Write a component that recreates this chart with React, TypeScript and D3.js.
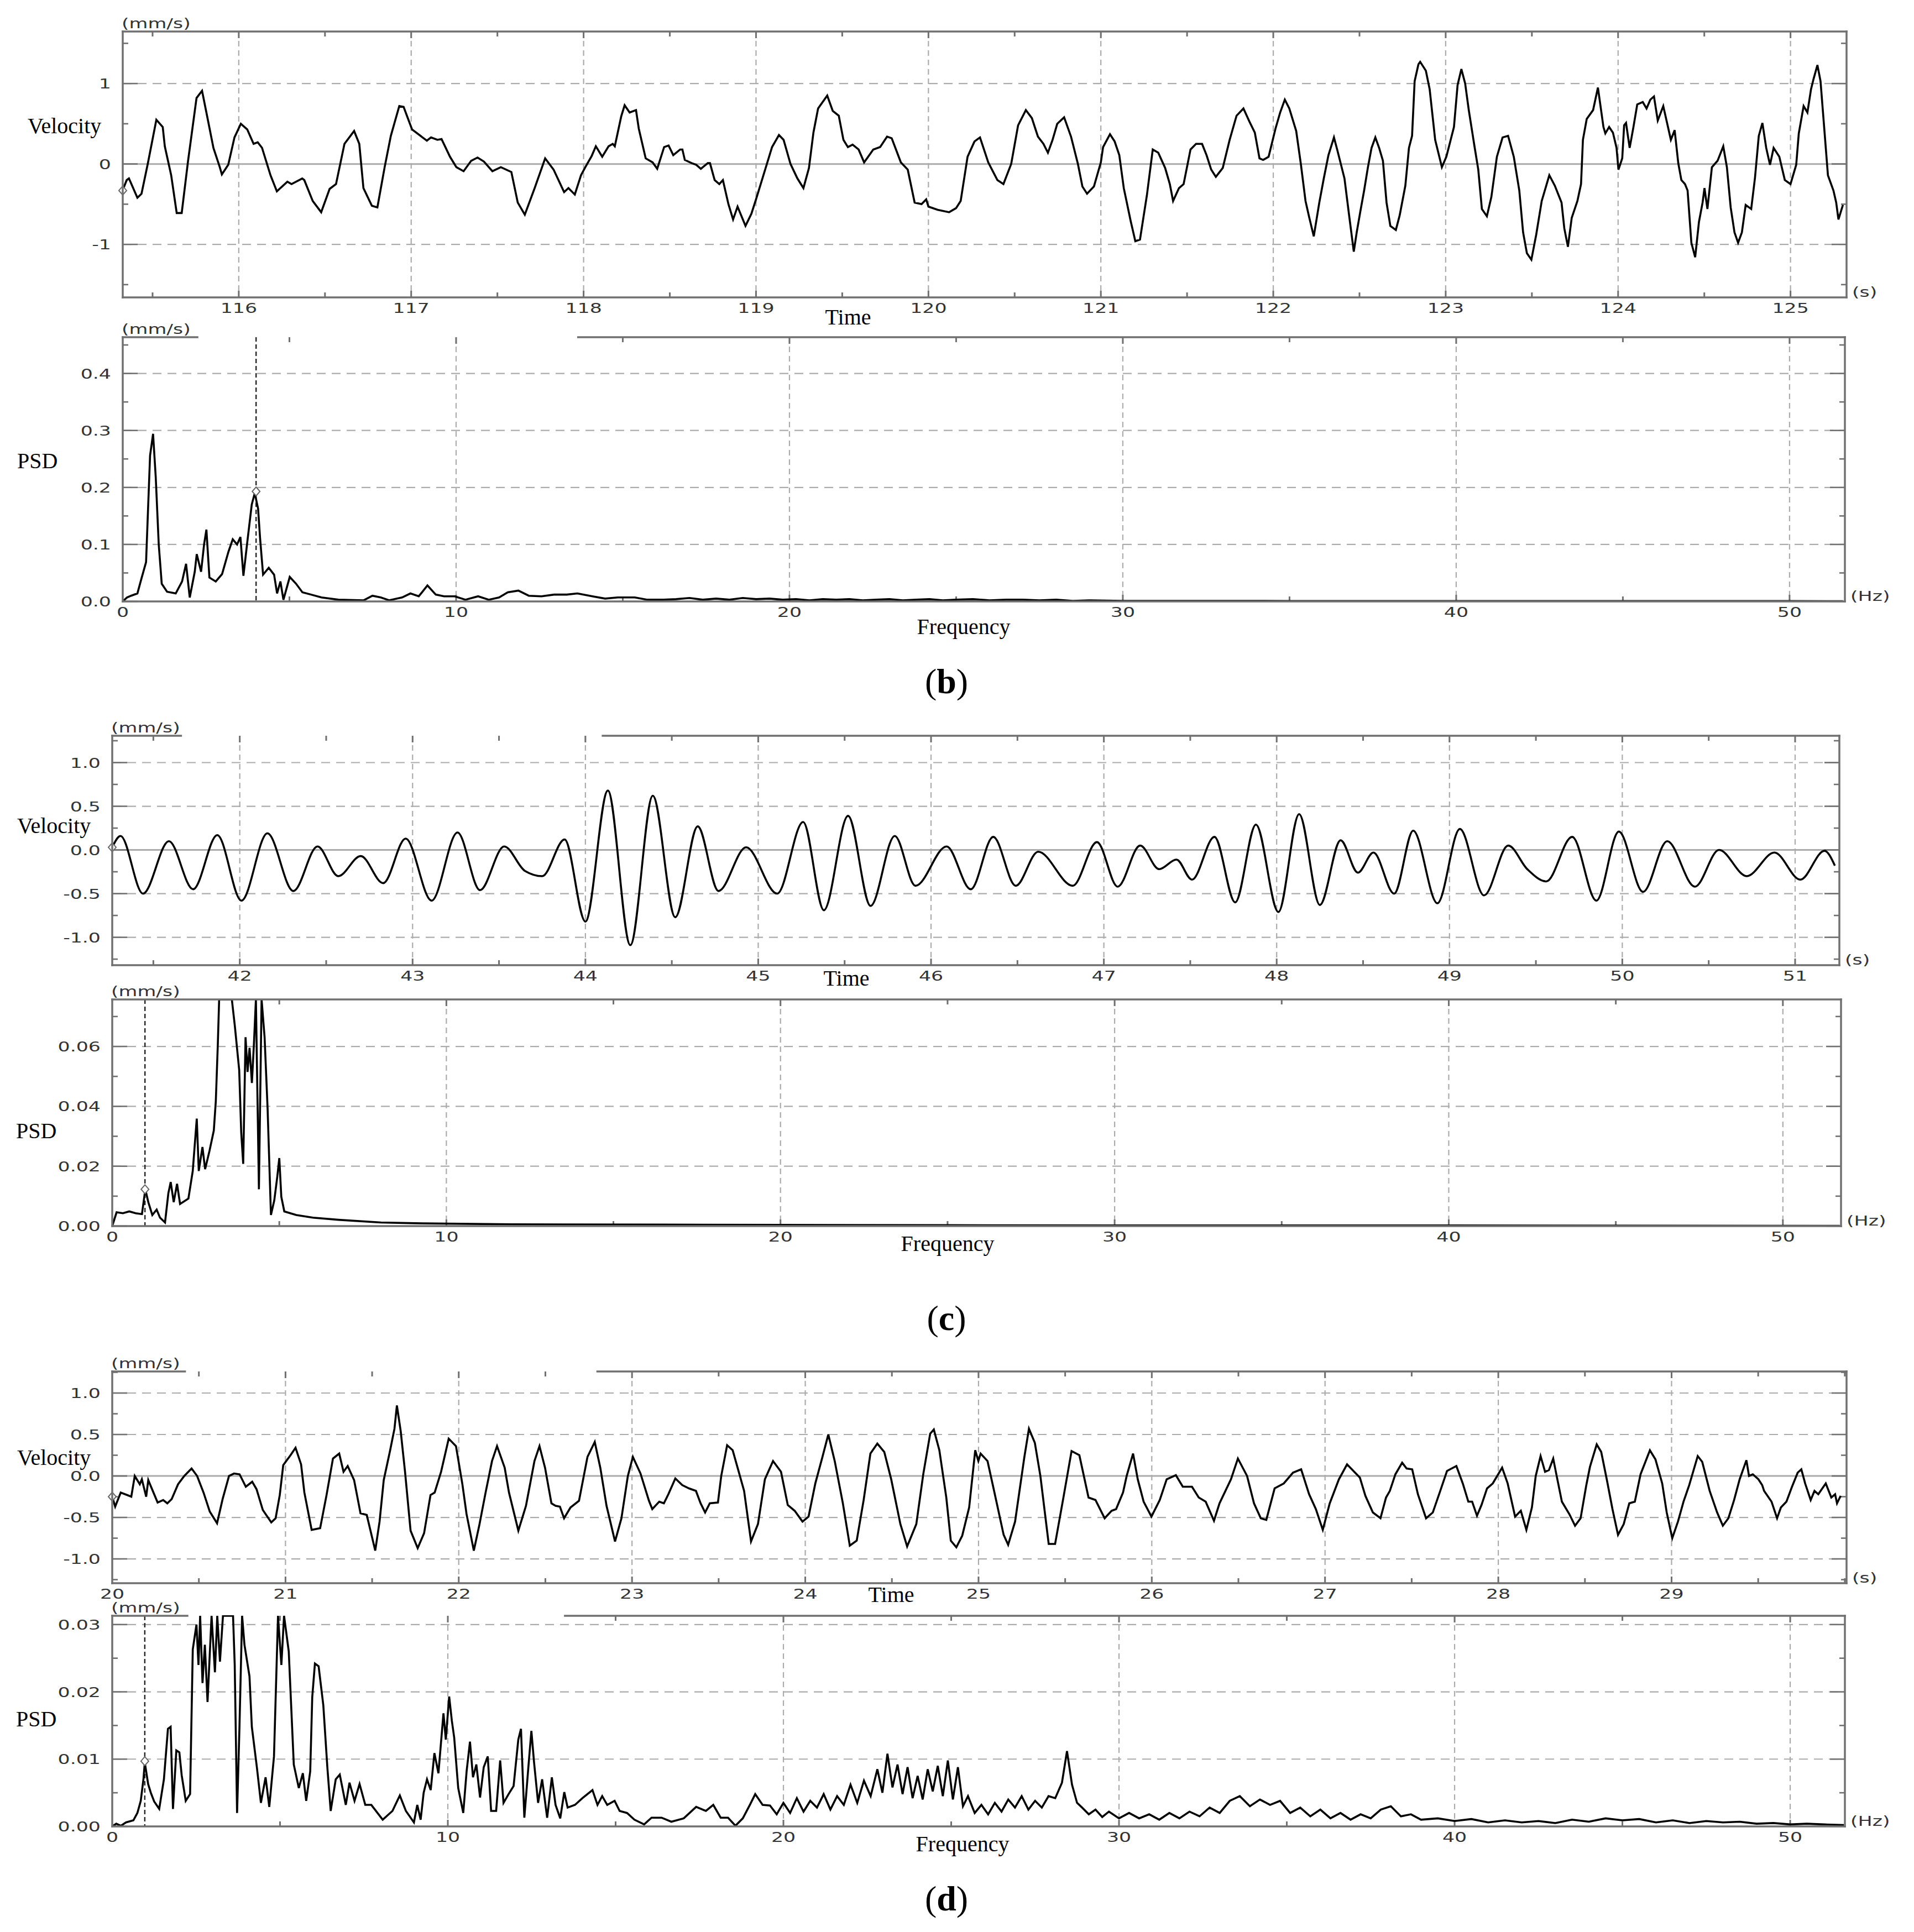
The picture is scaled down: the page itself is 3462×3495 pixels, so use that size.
import React, { useEffect, useRef } from "react";
import * as d3 from "d3";

const WIDTH = 3462;
const HEIGHT = 3495;

type Pt = [number, number];

// ── (b) velocity trace: [time s, velocity mm/s] ──────────────────────────
const velBTicks = [116, 117, 118, 119, 120, 121, 122, 123, 124, 125];
const velBYTicks = [-1, 0, 1];
const velB: Pt[] = [
  [115.326,-0.33],[115.35,-0.2],[115.363,-0.18],[115.412,-0.42],[115.436,-0.37],[115.473,0.01],[115.522,0.55],[115.559,0.46],[115.571,0.22],[115.608,-0.14],[115.64,-0.61],[115.669,-0.61],[115.706,0.04],[115.755,0.82],[115.787,0.91],[115.816,0.6],[115.853,0.2],[115.89,-0.04],[115.902,-0.13],[115.939,-0.01],[115.975,0.33],[116.012,0.5],[116.049,0.43],[116.086,0.25],[116.11,0.27],[116.135,0.2],[116.184,-0.14],[116.221,-0.34],[116.282,-0.22],[116.306,-0.25],[116.368,-0.18],[116.38,-0.2],[116.429,-0.46],[116.478,-0.6],[116.527,-0.31],[116.564,-0.25],[116.613,0.25],[116.669,0.41],[116.699,0.25],[116.723,-0.3],[116.772,-0.52],[116.804,-0.54],[116.846,-0.04],[116.882,0.35],[116.931,0.72],[116.956,0.71],[117.005,0.43],[117.066,0.33],[117.091,0.29],[117.115,0.33],[117.152,0.3],[117.176,0.31],[117.225,0.09],[117.262,-0.04],[117.304,-0.09],[117.348,0.04],[117.385,0.08],[117.422,0.03],[117.471,-0.09],[117.52,-0.04],[117.581,-0.1],[117.618,-0.48],[117.659,-0.63],[117.716,-0.3],[117.777,0.07],[117.826,-0.07],[117.887,-0.35],[117.912,-0.3],[117.949,-0.38],[117.985,-0.14],[118.01,-0.04],[118.047,0.1],[118.071,0.22],[118.108,0.09],[118.145,0.22],[118.169,0.25],[118.181,0.22],[118.218,0.59],[118.238,0.73],[118.267,0.64],[118.304,0.67],[118.32,0.44],[118.36,0.07],[118.4,0.02],[118.427,-0.06],[118.467,0.21],[118.493,0.23],[118.52,0.11],[118.56,0.18],[118.573,0.18],[118.587,0.05],[118.627,0.01],[118.653,-0.01],[118.68,-0.06],[118.72,0.01],[118.733,0.01],[118.76,-0.2],[118.787,-0.25],[118.808,-0.2],[118.84,-0.5],[118.867,-0.69],[118.893,-0.53],[118.939,-0.77],[118.973,-0.62],[119,-0.44],[119.053,-0.07],[119.093,0.21],[119.133,0.36],[119.16,0.3],[119.2,0],[119.24,-0.18],[119.275,-0.3],[119.307,-0.05],[119.333,0.39],[119.36,0.69],[119.413,0.85],[119.445,0.66],[119.48,0.6],[119.507,0.3],[119.533,0.21],[119.56,0.24],[119.595,0.18],[119.627,0.02],[119.68,0.18],[119.72,0.21],[119.76,0.34],[119.787,0.32],[119.84,0.02],[119.88,-0.07],[119.92,-0.48],[119.96,-0.5],[119.987,-0.44],[120,-0.53],[120.053,-0.57],[120.12,-0.6],[120.16,-0.55],[120.187,-0.46],[120.227,0.09],[120.267,0.28],[120.299,0.33],[120.347,0.02],[120.4,-0.2],[120.435,-0.25],[120.48,0],[120.52,0.48],[120.565,0.67],[120.6,0.57],[120.635,0.34],[120.667,0.25],[120.693,0.14],[120.72,0.3],[120.747,0.5],[120.787,0.58],[120.827,0.34],[120.867,0],[120.893,-0.28],[120.92,-0.37],[120.96,-0.28],[121,0.02],[121.013,0.21],[121.053,0.37],[121.08,0.28],[121.107,0.11],[121.133,-0.3],[121.173,-0.71],[121.2,-0.96],[121.227,-0.94],[121.267,-0.39],[121.301,0.18],[121.333,0.14],[121.373,-0.05],[121.4,-0.25],[121.419,-0.46],[121.453,-0.3],[121.48,-0.25],[121.52,0.18],[121.552,0.25],[121.587,0.25],[121.613,0.11],[121.64,-0.07],[121.667,-0.16],[121.707,-0.05],[121.747,0.3],[121.787,0.6],[121.827,0.69],[121.861,0.53],[121.893,0.39],[121.92,0.07],[121.941,0.05],[121.973,0.09],[122.013,0.44],[122.04,0.64],[122.067,0.8],[122.093,0.69],[122.133,0.41],[122.16,0],[122.187,-0.46],[122.208,-0.66],[122.235,-0.9],[122.267,-0.48],[122.293,-0.18],[122.32,0.11],[122.352,0.33],[122.373,0.16],[122.413,-0.18],[122.44,-0.64],[122.467,-1.09],[122.484,-0.85],[122.505,-0.59],[122.527,-0.33],[122.549,-0.04],[122.57,0.2],[122.592,0.33],[122.614,0.2],[122.636,0.04],[122.657,-0.48],[122.679,-0.77],[122.711,-0.82],[122.733,-0.64],[122.766,-0.27],[122.787,0.2],[122.805,0.35],[122.82,1.03],[122.842,1.24],[122.852,1.27],[122.885,1.16],[122.907,0.93],[122.939,0.3],[122.978,-0.04],[123.004,0.09],[123.048,0.46],[123.069,0.98],[123.091,1.18],[123.113,1.0],[123.134,0.67],[123.167,0.22],[123.189,-0.07],[123.21,-0.56],[123.239,-0.65],[123.265,-0.41],[123.297,0.09],[123.33,0.33],[123.362,0.35],[123.395,0.09],[123.427,-0.33],[123.449,-0.85],[123.471,-1.11],[123.497,-1.19],[123.525,-0.88],[123.557,-0.46],[123.601,-0.14],[123.633,-0.27],[123.672,-0.48],[123.688,-0.8],[123.709,-1.03],[123.731,-0.67],[123.764,-0.46],[123.785,-0.25],[123.796,0.3],[123.818,0.56],[123.855,0.67],[123.883,0.95],[123.915,0.46],[123.926,0.38],[123.948,0.46],[123.97,0.39],[123.991,0.2],[124.002,-0.07],[124.024,0.07],[124.035,0.48],[124.046,0.51],[124.067,0.2],[124.089,0.46],[124.111,0.74],[124.143,0.77],[124.165,0.69],[124.187,0.8],[124.208,0.84],[124.23,0.54],[124.262,0.72],[124.284,0.51],[124.306,0.3],[124.328,0.42],[124.349,0.01],[124.367,-0.2],[124.388,-0.25],[124.403,-0.33],[124.425,-0.98],[124.447,-1.16],[124.469,-0.72],[124.49,-0.48],[124.501,-0.3],[124.518,-0.56],[124.544,-0.04],[124.577,0.04],[124.61,0.22],[124.631,-0.04],[124.653,-0.54],[124.675,-0.85],[124.696,-0.98],[124.718,-0.85],[124.74,-0.51],[124.772,-0.56],[124.794,-0.17],[124.816,0.35],[124.837,0.51],[124.859,0.2],[124.881,-0.01],[124.902,0.2],[124.935,0.09],[124.967,-0.2],[125,-0.25],[125.033,-0.01],[125.048,0.38],[125.076,0.72],[125.098,0.64],[125.119,0.93],[125.134,1.06],[125.156,1.23],[125.174,1.03],[125.195,0.46],[125.217,-0.14],[125.249,-0.33],[125.265,-0.48],[125.278,-0.69],[125.304,-0.51],
];

// ── (b) PSD: [frequency Hz, PSD] ─────────────────────────────────────────
const psdXTicks = [0, 10, 20, 30, 40, 50];
const psdBYTicks = [0, 0.1, 0.2, 0.3, 0.4];
const psdBPeakHz = 4.0;
const psdB: Pt[] = [
  [0,0],[0.13,0.007],[0.25,0.01],[0.44,0.014],[0.57,0.042],[0.7,0.069],[0.76,0.163],[0.82,0.256],[0.91,0.294],[0.99,0.218],[1.08,0.1],[1.17,0.031],[1.33,0.017],[1.59,0.014],[1.78,0.035],[1.9,0.066],[2.01,0.007],[2.16,0.052],[2.22,0.083],[2.35,0.052],[2.44,0.1],[2.51,0.126],[2.6,0.042],[2.79,0.035],[2.98,0.048],[3.17,0.087],[3.3,0.109],[3.43,0.1],[3.53,0.113],[3.62,0.045],[3.74,0.106],[3.87,0.17],[3.96,0.19],[4.06,0.163],[4.12,0.111],[4.21,0.047],[4.38,0.059],[4.54,0.047],[4.63,0.014],[4.73,0.035],[4.82,0.003],[5.01,0.043],[5.2,0.031],[5.39,0.016],[5.65,0.012],[5.96,0.007],[6.47,0.003],[7.23,0.002],[7.49,0.01],[7.74,0.007],[7.99,0.002],[8.38,0.007],[8.63,0.014],[8.88,0.009],[9.14,0.028],[9.39,0.012],[9.64,0.009],[9.96,0.009],[10.28,0.003],[10.66,0.009],[10.98,0.003],[11.29,0.007],[11.55,0.016],[11.87,0.019],[12.18,0.01],[12.56,0.009],[12.94,0.012],[13.32,0.012],[13.64,0.014],[14.09,0.009],[14.47,0.005],[14.85,0.007],[15.36,0.007],[15.74,0.003],[16.22,0.003],[16.6,0.004],[17.0,0.006],[17.4,0.003],[17.8,0.005],[18.2,0.003],[18.6,0.006],[19.0,0.004],[19.4,0.005],[19.8,0.003],[20.2,0.004],[20.6,0.002],[21.0,0.004],[21.4,0.003],[21.8,0.004],[22.2,0.002],[22.6,0.003],[23.0,0.004],[23.4,0.002],[23.8,0.003],[24.2,0.004],[24.6,0.002],[25.0,0.003],[25.5,0.004],[26.0,0.002],[26.5,0.003],[27.0,0.003],[27.5,0.002],[28.0,0.003],[28.5,0.001],[29.0,0.002],[30.0,0.001],[32.0,0.001],[35.0,0.0008],[40.0,0.0007],[45.0,0.0006],[50.0,0.0006],[51.6,0.0005],
];

// ── (c) velocity ─────────────────────────────────────────────────────────
const velCTicks = [42, 43, 44, 45, 46, 47, 48, 49, 50, 51];
const velYTicks = [-1, -0.5, 0, 0.5, 1];
const velC: Pt[] = [
  [41.262,0.03],[41.31,0.16],[41.44,-0.5],[41.59,0.1],[41.73,-0.45],[41.87,0.17],[42.01,-0.58],[42.16,0.19],[42.31,-0.47],[42.45,0.04],[42.57,-0.3],[42.7,-0.07],[42.83,-0.38],[42.96,0.13],[43.11,-0.58],[43.26,0.2],[43.39,-0.46],[43.53,0.04],[43.65,-0.24],[43.75,-0.3],[43.88,0.12],[44.0,-0.82],[44.13,0.68],[44.26,-1.09],[44.39,0.62],[44.52,-0.77],[44.65,0.27],[44.77,-0.47],[44.93,0.03],[45.11,-0.5],[45.26,0.32],[45.38,-0.69],[45.52,0.39],[45.65,-0.64],[45.79,0.16],[45.91,-0.41],[46.09,0.04],[46.23,-0.45],[46.36,0.15],[46.49,-0.41],[46.62,-0.02],[46.82,-0.41],[46.96,0.09],[47.08,-0.42],[47.21,0.05],[47.32,-0.22],[47.42,-0.11],[47.51,-0.34],[47.64,0.15],[47.76,-0.6],[47.88,0.29],[48.01,-0.71],[48.13,0.41],[48.25,-0.63],[48.37,0.11],[48.47,-0.26],[48.56,-0.03],[48.68,-0.5],[48.79,0.22],[48.93,-0.61],[49.06,0.24],[49.2,-0.52],[49.34,0.05],[49.45,-0.22],[49.56,-0.36],[49.71,0.15],[49.85,-0.58],[49.98,0.21],[50.12,-0.48],[50.26,0.1],[50.42,-0.42],[50.56,0.0],[50.72,-0.3],[50.88,-0.03],[51.03,-0.34],[51.17,-0.01],[51.23,-0.18],
];

// ── (c) PSD ──────────────────────────────────────────────────────────────
const psdCYTicks = [0, 0.02, 0.04, 0.06];
const psdCPeakHz = 0.98;
const psdC: Pt[] = [
  [0,0],[0.13,0.0046],[0.32,0.0043],[0.51,0.0049],[0.7,0.0043],[0.89,0.004],[0.99,0.0123],[1.08,0.008],[1.2,0.0037],[1.33,0.0055],[1.43,0.0028],[1.58,0.0012],[1.68,0.011],[1.75,0.0147],[1.84,0.008],[1.94,0.0141],[2.03,0.0074],[2.28,0.0092],[2.41,0.0184],[2.53,0.0359],[2.59,0.0184],[2.7,0.0264],[2.78,0.019],[2.91,0.0251],[3.04,0.0319],[3.1,0.0417],[3.16,0.0607],[3.2,0.08],[3.58,0.08],[3.67,0.0668],[3.8,0.0521],[3.86,0.0313],[3.92,0.0208],[3.99,0.0631],[4.05,0.0515],[4.11,0.0595],[4.18,0.0478],[4.24,0.0607],[4.3,0.08],[4.39,0.0123],[4.47,0.08],[4.56,0.0631],[4.65,0.0392],[4.75,0.0037],[4.85,0.0086],[4.94,0.0165],[5.0,0.0227],[5.06,0.0098],[5.15,0.0049],[5.51,0.0037],[6.01,0.0028],[6.77,0.0021],[8.04,0.0012],[9.3,0.0009],[11.96,0.0006],[16.49,0.0005],[20,0.0004],[25,0.0003],[30,0.0002],[40,0.0002],[51.7,0.0001],
];

// ── (d) velocity ─────────────────────────────────────────────────────────
const velDTicks = [20, 21, 22, 23, 24, 25, 26, 27, 28, 29];
const velD: Pt[] = [
  [20,-0.25],[20.017,-0.37],[20.049,-0.2],[20.086,-0.23],[20.11,-0.25],[20.13,0],[20.159,-0.1],[20.171,-0.04],[20.196,-0.25],[20.208,-0.05],[20.262,-0.32],[20.294,-0.29],[20.318,-0.33],[20.343,-0.28],[20.38,-0.1],[20.416,0],[20.458,0.09],[20.49,0],[20.527,-0.2],[20.563,-0.43],[20.605,-0.57],[20.637,-0.28],[20.674,0],[20.703,0.03],[20.735,0.02],[20.771,-0.13],[20.808,-0.07],[20.833,-0.16],[20.869,-0.41],[20.918,-0.56],[20.943,-0.51],[20.967,-0.23],[20.987,0.13],[21.029,0.25],[21.058,0.34],[21.09,0.14],[21.109,-0.2],[21.151,-0.65],[21.2,-0.63],[21.237,-0.23],[21.274,0.21],[21.31,0.27],[21.335,0.05],[21.359,0.12],[21.396,-0.05],[21.433,-0.45],[21.469,-0.47],[21.518,-0.9],[21.543,-0.55],[21.567,-0.05],[21.604,0.31],[21.629,0.57],[21.643,0.85],[21.665,0.54],[21.69,0.05],[21.722,-0.66],[21.763,-0.87],[21.8,-0.69],[21.837,-0.23],[21.861,-0.2],[21.898,0.05],[21.942,0.45],[21.984,0.36],[22.021,-0.1],[22.045,-0.46],[22.087,-0.9],[22.119,-0.59],[22.155,-0.2],[22.192,0.18],[22.221,0.36],[22.265,0.1],[22.29,-0.2],[22.344,-0.66],[22.388,-0.36],[22.437,0.18],[22.466,0.36],[22.498,0.1],[22.535,-0.33],[22.559,-0.36],[22.584,-0.37],[22.608,-0.51],[22.645,-0.38],[22.694,-0.3],[22.743,0.23],[22.785,0.41],[22.817,0.1],[22.853,-0.36],[22.902,-0.79],[22.939,-0.51],[22.976,0],[23.005,0.23],[23.049,0.03],[23.098,-0.3],[23.117,-0.4],[23.157,-0.31],[23.184,-0.33],[23.21,-0.22],[23.25,-0.03],[23.29,-0.11],[23.329,-0.15],[23.369,-0.18],[23.396,-0.33],[23.422,-0.44],[23.449,-0.33],[23.496,-0.32],[23.515,0],[23.549,0.37],[23.581,0.31],[23.608,0.11],[23.647,-0.18],[23.687,-0.79],[23.727,-0.58],[23.767,-0.04],[23.814,0.18],[23.86,0.05],[23.899,-0.35],[23.939,-0.42],[23.984,-0.55],[24.019,-0.49],[24.058,-0.09],[24.098,0.22],[24.133,0.5],[24.17,0.18],[24.217,-0.33],[24.257,-0.84],[24.297,-0.78],[24.337,-0.29],[24.376,0.27],[24.416,0.39],[24.456,0.29],[24.496,-0.04],[24.549,-0.58],[24.588,-0.85],[24.641,-0.58],[24.681,0.02],[24.721,0.51],[24.742,0.56],[24.774,0.31],[24.814,-0.26],[24.84,-0.78],[24.872,-0.86],[24.906,-0.72],[24.946,-0.38],[24.981,0.31],[24.999,0.18],[25.012,0.27],[25.052,0.18],[25.092,-0.2],[25.145,-0.71],[25.171,-0.83],[25.211,-0.55],[25.264,0.22],[25.291,0.57],[25.325,0.4],[25.357,0],[25.405,-0.82],[25.442,-0.82],[25.49,-0.26],[25.537,0.3],[25.582,0.25],[25.635,-0.26],[25.675,-0.29],[25.728,-0.51],[25.768,-0.42],[25.794,-0.4],[25.834,-0.2],[25.855,0],[25.892,0.27],[25.919,-0.04],[25.953,-0.31],[25.998,-0.49],[26.046,-0.29],[26.086,-0.04],[26.139,0.01],[26.179,-0.13],[26.232,-0.13],[26.271,-0.26],[26.311,-0.31],[26.359,-0.54],[26.391,-0.33],[26.457,-0.04],[26.497,0.21],[26.55,0],[26.59,-0.33],[26.629,-0.51],[26.661,-0.53],[26.709,-0.15],[26.762,-0.09],[26.815,0.04],[26.862,0.08],[26.908,-0.22],[26.947,-0.4],[26.987,-0.65],[27.027,-0.33],[27.08,-0.04],[27.127,0.14],[27.164,0.06],[27.201,-0.02],[27.233,-0.24],[27.276,-0.44],[27.32,-0.51],[27.352,-0.26],[27.374,-0.18],[27.406,0.02],[27.445,0.16],[27.471,0.09],[27.503,0.08],[27.536,-0.22],[27.583,-0.51],[27.622,-0.44],[27.665,-0.18],[27.704,0.06],[27.758,0.12],[27.795,-0.09],[27.827,-0.31],[27.849,-0.31],[27.877,-0.48],[27.903,-0.35],[27.935,-0.15],[27.968,-0.09],[28.022,0.1],[28.054,-0.09],[28.097,-0.49],[28.13,-0.42],[28.162,-0.65],[28.194,-0.38],[28.216,0],[28.244,0.24],[28.27,0.05],[28.292,0.07],[28.317,0.21],[28.335,0.02],[28.367,-0.31],[28.41,-0.46],[28.443,-0.6],[28.475,-0.51],[28.508,-0.11],[28.529,0.11],[28.568,0.38],[28.594,0.29],[28.626,-0.04],[28.659,-0.4],[28.691,-0.71],[28.724,-0.58],[28.756,-0.33],[28.788,-0.31],[28.821,0.02],[28.875,0.31],[28.907,0.2],[28.946,-0.09],[28.972,-0.44],[29.004,-0.75],[29.037,-0.55],[29.069,-0.31],[29.102,-0.11],[29.151,0.24],[29.177,0.17],[29.22,-0.18],[29.263,-0.44],[29.296,-0.6],[29.328,-0.51],[29.361,-0.29],[29.393,-0.04],[29.432,0.19],[29.447,0],[29.469,0.02],[29.501,-0.04],[29.523,-0.11],[29.534,-0.18],[29.577,-0.31],[29.609,-0.51],[29.631,-0.38],[29.663,-0.31],[29.695,-0.13],[29.728,0.04],[29.749,0.08],[29.771,-0.09],[29.803,-0.29],[29.825,-0.18],[29.847,-0.22],[29.89,-0.09],[29.922,-0.26],[29.944,-0.22],[29.955,-0.33],[29.976,-0.24],
];

// ── (d) PSD ──────────────────────────────────────────────────────────────
const psdDYTicks = [0, 0.01, 0.02, 0.03];
const psdDPeakHz = 0.97;
const psdD: Pt[] = [
  [0,0],[0.12,0.0004],[0.26,0.0001],[0.41,0.0006],[0.63,0.0009],[0.75,0.002],[0.85,0.0038],[0.93,0.007],[0.97,0.0095],[1.07,0.0063],[1.15,0.005],[1.25,0.0037],[1.4,0.0026],[1.54,0.007],[1.66,0.0145],[1.74,0.0148],[1.81,0.0026],[1.91,0.0113],[2.0,0.011],[2.07,0.0076],[2.19,0.0038],[2.32,0.0048],[2.4,0.0263],[2.51,0.03],[2.57,0.024],[2.62,0.033],[2.69,0.0213],[2.76,0.027],[2.84,0.0185],[2.96,0.033],[3.06,0.0229],[3.13,0.033],[3.21,0.0245],[3.3,0.033],[3.6,0.033],[3.65,0.024],[3.72,0.002],[3.79,0.0145],[3.87,0.033],[3.94,0.027],[4.09,0.0223],[4.16,0.0148],[4.31,0.0088],[4.43,0.0035],[4.57,0.0073],[4.68,0.0029],[4.82,0.0104],[4.94,0.033],[5.04,0.024],[5.12,0.033],[5.26,0.026],[5.41,0.0092],[5.56,0.0057],[5.68,0.0079],[5.78,0.0038],[5.9,0.0082],[5.96,0.0192],[6.04,0.0242],[6.15,0.0238],[6.29,0.018],[6.41,0.0088],[6.51,0.0023],[6.66,0.007],[6.78,0.0077],[6.96,0.0032],[7.07,0.0065],[7.22,0.0038],[7.37,0.0063],[7.54,0.0032],[7.72,0.0032],[8.06,0.001],[8.35,0.0023],[8.57,0.0046],[8.75,0.0023],[8.99,0.0006],[9.09,0.0032],[9.19,0.001],[9.28,0.005],[9.38,0.007],[9.49,0.0054],[9.6,0.0109],[9.72,0.0079],[9.87,0.0168],[9.94,0.0129],[10.04,0.0193],[10.12,0.0157],[10.19,0.0132],[10.31,0.0057],[10.46,0.002],[10.56,0.0082],[10.66,0.0126],[10.75,0.0073],[10.85,0.0092],[10.96,0.0043],[11.07,0.0088],[11.19,0.0104],[11.29,0.0023],[11.44,0.0023],[11.56,0.0098],[11.66,0.0035],[11.81,0.0048],[11.96,0.006],[12.1,0.0129],[12.18,0.0145],[12.28,0.0013],[12.4,0.0088],[12.49,0.0142],[12.57,0.0095],[12.69,0.0035],[12.81,0.007],[12.96,0.0013],[13.1,0.0073],[13.21,0.0032],[13.35,0.0012],[13.47,0.0051],[13.57,0.0028],[13.79,0.0032],[14.01,0.0042],[14.31,0.0054],[14.46,0.0032],[14.6,0.0045],[14.75,0.0032],[14.97,0.0038],[15.12,0.0023],[15.34,0.002],[15.56,0.001],[15.85,0.0003],[16.07,0.0013],[16.37,0.0013],[16.66,0.0007],[17.03,0.0012],[17.4,0.0029],[17.69,0.0023],[17.91,0.0032],[18.13,0.0013],[18.35,0.0013],[18.57,0.0001],[18.79,0.0012],[19.0,0.0032],[19.16,0.0048],[19.38,0.0032],[19.6,0.0031],[19.8,0.0018],[20.0,0.0035],[20.2,0.002],[20.4,0.0042],[20.6,0.0022],[20.8,0.0038],[21.0,0.0028],[21.2,0.0048],[21.4,0.0025],[21.6,0.0045],[21.8,0.0032],[22.0,0.0062],[22.2,0.0035],[22.4,0.0068],[22.6,0.0045],[22.8,0.0085],[22.95,0.005],[23.1,0.0108],[23.25,0.0058],[23.4,0.0092],[23.55,0.0048],[23.7,0.0088],[23.85,0.0042],[24.0,0.0075],[24.15,0.004],[24.3,0.0085],[24.45,0.0052],[24.6,0.009],[24.75,0.0045],[24.9,0.0098],[25.05,0.004],[25.2,0.0088],[25.35,0.003],[25.5,0.0045],[25.7,0.002],[25.9,0.0032],[26.1,0.0018],[26.3,0.0035],[26.5,0.0022],[26.7,0.004],[26.9,0.0028],[27.1,0.0045],[27.3,0.0025],[27.5,0.0038],[27.7,0.0028],[27.9,0.0045],[28.1,0.0042],[28.3,0.0065],[28.45,0.0112],[28.6,0.0062],[28.75,0.0035],[28.9,0.0028],[29.1,0.0018],[29.3,0.0025],[29.5,0.0014],[29.7,0.0022],[30.0,0.0012],[30.3,0.002],[30.6,0.0012],[30.9,0.0018],[31.2,0.001],[31.5,0.002],[31.8,0.0012],[32.1,0.0022],[32.4,0.0015],[32.7,0.0028],[33.0,0.002],[33.3,0.0038],[33.6,0.0045],[33.9,0.003],[34.2,0.004],[34.5,0.0032],[34.8,0.0038],[35.1,0.002],[35.4,0.0028],[35.7,0.0015],[36.0,0.0025],[36.3,0.0012],[36.6,0.002],[36.9,0.001],[37.2,0.0018],[37.5,0.0012],[37.8,0.0025],[38.1,0.003],[38.4,0.0015],[38.7,0.0018],[39.0,0.001],[39.5,0.0012],[40,0.0008],[40.5,0.0011],[41,0.0006],[41.5,0.0009],[42,0.0006],[42.5,0.0008],[43,0.0005],[43.5,0.001],[44,0.0007],[44.5,0.0012],[45,0.0009],[45.5,0.0011],[46,0.0006],[46.5,0.0009],[47,0.0005],[47.5,0.0008],[48,0.0006],[48.5,0.0007],[49,0.0004],[49.5,0.0005],[50,0.0003],[50.5,0.0004],[51,0.0003],[51.6,0.0002],
];

// ── styling ──────────────────────────────────────────────────────────────
const SANS = "'DejaVu Sans', Verdana, sans-serif";
const SERIF = "'Liberation Serif', 'Times New Roman', serif";
const FRAME = "#707070";
const GRID = "#ababab";
const TICK_TEXT = "#333";

type Box = { left: number; right: number; top: number; bottom: number };

interface Panel {
  id: string;
  box: Box;
  xDomain: [number, number];
  yDomain: [number, number];
  xTicks: number[];
  xMinorStep: number;
  yTicks: number[];
  yMinorStep: number;
  yFmt: (v: number) => string;
  zeroLine: boolean;
  data: Pt[];
  smooth: boolean;
  yTitle: string;
  yTitlePos: [number, number];
  xTitle: string;
  xTitlePos: [number, number];
  unit: string;
  cursor?: number;
  diamond: Pt;
  topGap?: [number, number];
}

const panels: Panel[] = [
  {
    id: "bv", box: { left: 222, right: 3340, top: 57, bottom: 538 },
    xDomain: [115.327, 125.325], yDomain: [-1.659, 1.647],
    xTicks: velBTicks, xMinorStep: 0.5, yTicks: velBYTicks, yMinorStep: 0.5,
    yFmt: v => String(v), zeroLine: true, data: velB, smooth: false,
    yTitle: "Velocity", yTitlePos: [50, 228], xTitle: "Time", xTitlePos: [1534, 575],
    unit: "(s)", diamond: [115.327, -0.33],
  },
  {
    id: "bp", box: { left: 222, right: 3337, top: 610, bottom: 1088 },
    xDomain: [0, 51.66], yDomain: [0, 0.4636],
    xTicks: psdXTicks, xMinorStep: 5, yTicks: psdBYTicks, yMinorStep: 0.05,
    yFmt: v => v.toFixed(1), zeroLine: false, data: psdB, smooth: false,
    yTitle: "PSD", yTitlePos: [31, 834], xTitle: "Frequency", xTitlePos: [1743, 1135],
    unit: "(Hz)", cursor: psdBPeakHz, diamond: [psdBPeakHz, 0.193], topGap: [2.24, 13.66],
  },
  {
    id: "cv", box: { left: 203, right: 3327, top: 1331, bottom: 1746 },
    xDomain: [41.262, 51.256], yDomain: [-1.319, 1.307],
    xTicks: velCTicks, xMinorStep: 0.5, yTicks: velYTicks, yMinorStep: 0.25,
    yFmt: v => v.toFixed(1), zeroLine: true, data: velC, smooth: true,
    yTitle: "Velocity", yTitlePos: [31, 1494], xTitle: "Time", xTitlePos: [1531, 1771],
    unit: "(s)", diamond: [41.262, 0.03], topGap: [41.66, 44.1],
  },
  {
    id: "cp", box: { left: 203, right: 3330, top: 1808, bottom: 2218 },
    xDomain: [0, 51.74], yDomain: [0, 0.0757],
    xTicks: psdXTicks, xMinorStep: 5, yTicks: psdCYTicks, yMinorStep: 0.01,
    yFmt: v => v.toFixed(2), zeroLine: false, data: psdC, smooth: false,
    yTitle: "PSD", yTitlePos: [29, 2046], xTitle: "Frequency", xTitlePos: [1714, 2251],
    unit: "(Hz)", cursor: psdCPeakHz, diamond: [psdCPeakHz, 0.0123],
  },
  {
    id: "dv", box: { left: 203, right: 3340, top: 2481, bottom: 2864 },
    xDomain: [20, 30.01], yDomain: [-1.293, 1.26],
    xTicks: velDTicks, xMinorStep: 0.5, yTicks: velYTicks, yMinorStep: 0.25,
    yFmt: v => v.toFixed(1), zeroLine: true, data: velD, smooth: false,
    yTitle: "Velocity", yTitlePos: [31, 2637], xTitle: "Time", xTitlePos: [1612, 2886],
    unit: "(s)", diamond: [20, -0.25], topGap: [20.42, 22.8],
  },
  {
    id: "dp", box: { left: 203, right: 3337, top: 2923, bottom: 3304 },
    xDomain: [0, 51.63], yDomain: [0, 0.0313],
    xTicks: psdXTicks, xMinorStep: 5, yTicks: psdDYTicks, yMinorStep: 0.005,
    yFmt: v => v.toFixed(2), zeroLine: false, data: psdD, smooth: false,
    yTitle: "PSD", yTitlePos: [29, 3110], xTitle: "Frequency", xTitlePos: [1741, 3337],
    unit: "(Hz)", cursor: psdDPeakHz, diamond: [psdDPeakHz, 0.0097], topGap: [2.24, 13.49],
  },
];

const captions: [string, number][] = [["b", 1233], ["c", 2385], ["d", 3435]];

function sansText(g: any, x: number, y: number, str: string, anchor = "start") {
  g.append("text")
    .attr("transform", `translate(${x},${y}) scale(1.45,1)`)
    .attr("text-anchor", anchor)
    .attr("font-family", SANS)
    .attr("font-size", 24)
    .attr("fill", TICK_TEXT)
    .text(str);
}

function drawPanel(svg: any, p: Panel) {
  const { left, right, top, bottom } = p.box;
  const x = d3.scaleLinear().domain(p.xDomain).range([left, right]);
  const y = d3.scaleLinear().domain(p.yDomain).range([bottom, top]).clamp(true);
  const g = svg.append("g");
  const eps = 0.5;
  const inX = (v: number) => x(v) > left + eps && x(v) < right - eps;
  const inY = (v: number) => v >= p.yDomain[0] - 1e-9 && v <= p.yDomain[1] + 1e-9;

  // grid
  p.xTicks.filter(inX).forEach(t => {
    g.append("line")
      .attr("x1", x(t)).attr("x2", x(t)).attr("y1", top).attr("y2", bottom)
      .attr("stroke", GRID).attr("stroke-width", 2.2).attr("stroke-dasharray", "10,7");
  });
  p.yTicks.forEach(v => {
    if (v === 0 && !p.zeroLine) return;
    const line = g.append("line")
      .attr("x1", left).attr("x2", right).attr("y1", y(v)).attr("y2", y(v))
      .attr("stroke", GRID);
    if (v === 0) line.attr("stroke-width", 3);
    else line.attr("stroke-width", 2.2).attr("stroke-dasharray", "16,11");
  });

  // cursor at the picked frequency
  if (p.cursor !== undefined) {
    g.append("line")
      .attr("x1", x(p.cursor)).attr("x2", x(p.cursor)).attr("y1", top).attr("y2", bottom)
      .attr("stroke", "#222").attr("stroke-width", 2.4).attr("stroke-dasharray", "8,5");
  }

  // ticks
  const xMinor = d3.range(Math.ceil(p.xDomain[0] / p.xMinorStep) * p.xMinorStep, p.xDomain[1], p.xMinorStep);
  xMinor.filter(inX).forEach(t => {
    const major = p.xTicks.some(m => Math.abs(m - t) < 1e-6);
    const len = major ? 12 : 9;
    g.append("line").attr("x1", x(t)).attr("x2", x(t)).attr("y1", top).attr("y2", top + len)
      .attr("stroke", FRAME).attr("stroke-width", 3);
    g.append("line").attr("x1", x(t)).attr("x2", x(t)).attr("y1", bottom).attr("y2", bottom - len)
      .attr("stroke", FRAME).attr("stroke-width", 3);
  });
  const yMinor = d3.range(Math.ceil(p.yDomain[0] / p.yMinorStep - 1e-6) * p.yMinorStep, p.yDomain[1], p.yMinorStep);
  yMinor.forEach(v => {
    const major = p.yTicks.some(m => Math.abs(m - v) < 1e-9);
    const len = major ? 27 : 10;
    g.append("line").attr("x1", left).attr("x2", left + len).attr("y1", y(v)).attr("y2", y(v))
      .attr("stroke", FRAME).attr("stroke-width", 2.6);
    g.append("line").attr("x1", right).attr("x2", right - len).attr("y1", y(v)).attr("y2", y(v))
      .attr("stroke", FRAME).attr("stroke-width", 2.6);
  });

  // trace
  const clipId = `clip-${p.id}`;
  svg.select("defs").append("clipPath").attr("id", clipId)
    .append("rect").attr("x", left).attr("y", top - 1).attr("width", right - left).attr("height", bottom - top + 2);
  const line = d3.line<Pt>()
    .x(d => x(d[0]))
    .y(d => y(d[1]))
    .curve(p.smooth ? d3.curveMonotoneX : d3.curveLinear);
  g.append("path")
    .datum(p.data)
    .attr("clip-path", `url(#${clipId})`)
    .attr("d", line)
    .attr("fill", "none")
    .attr("stroke", "#000")
    .attr("stroke-width", 3.6)
    .attr("stroke-linejoin", "miter");

  // diamond marker
  const [dx, dy] = p.diamond;
  g.append("path")
    .attr("d", `M${x(dx)},${y(dy) - 8}L${x(dx) + 7},${y(dy)}L${x(dx)},${y(dy) + 8}L${x(dx) - 7},${y(dy)}Z`)
    .attr("fill", "#fff").attr("stroke", "#666").attr("stroke-width", 2);

  // frame
  const frame = (x1: number, y1: number, x2: number, y2: number) =>
    g.append("line").attr("x1", x1).attr("y1", y1).attr("x2", x2).attr("y2", y2)
      .attr("stroke", FRAME).attr("stroke-width", 3.5).attr("stroke-linecap", "square");
  if (p.topGap) {
    frame(left, top, x(p.topGap[0]), top);
    frame(x(p.topGap[1]), top, right, top);
  } else {
    frame(left, top, right, top);
  }
  frame(left, bottom, right, bottom);
  frame(left, top, left, bottom);
  frame(right, top, right, bottom);

  // tick labels
  p.xTicks.forEach(t => sansText(g, x(t), bottom + 28, String(t), "middle"));
  p.yTicks.filter(inY).forEach(v => sansText(g, left - 21, y(v) + 9, p.yFmt(v), "end"));

  // units / titles
  sansText(g, left - 2, top - 6, "(mm/s)");
  sansText(g, right + 10, bottom - 1, p.unit);
  g.append("text").attr("x", p.yTitlePos[0]).attr("y", p.yTitlePos[1] + 13)
    .attr("font-family", SERIF).attr("font-size", 40).attr("fill", "#000").text(p.yTitle);
  g.append("text").attr("x", p.xTitlePos[0]).attr("y", p.xTitlePos[1] + 12)
    .attr("text-anchor", "middle")
    .attr("font-family", SERIF).attr("font-size", 40).attr("fill", "#000").text(p.xTitle);
}

const App = () => {
  const ref = useRef<SVGSVGElement | null>(null);

  useEffect(() => {
    if (!ref.current) return;
    const svg = d3.select(ref.current);
    svg.selectAll("*").remove();
    svg.append("defs");
    svg.append("rect").attr("width", WIDTH).attr("height", HEIGHT).attr("fill", "#fff");

    panels.forEach(p => drawPanel(svg, p));

    captions.forEach(([letter, cy]) => {
      const t = svg.append("text")
        .attr("x", 1712).attr("y", cy + 21)
        .attr("text-anchor", "middle")
        .attr("font-family", SERIF).attr("font-size", 64).attr("fill", "#000");
      t.append("tspan").text("(");
      t.append("tspan").attr("font-weight", "bold").text(letter);
      t.append("tspan").text(")");
    });
  }, []);

  return (
    <svg
      ref={ref}
      width={WIDTH}
      height={HEIGHT}
      style={{ position: "absolute", left: 0, top: 0, display: "block" }}
    />
  );
};

export default App;
